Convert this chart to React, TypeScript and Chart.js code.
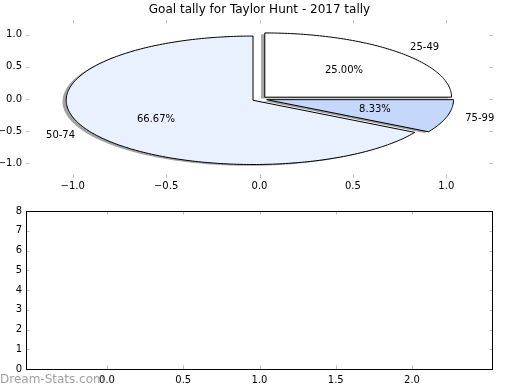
import React, { useEffect, useRef } from "react";
import { Chart, registerables } from "chart.js";
Chart.register(...registerables);

const TITLE = "Goal tally for Taylor Hunt - 2017 tally";
const WATERMARK = "Dream-Stats.com";
const sliceLabels = ["25-49", "75-99", "50-74"];
const sliceValues = [3, 1, 8];
const sliceColors = ["#ffffff", "#c5d8fc", "#eaf1fe"];
const sliceExplode = [0.04, 0.04, 0.04];
const pieStartAngle = 90;
const pieXTicks = [-1, -0.5, 0, 0.5, 1];
const pieYTicks = [-1, -0.5, 0, 0.5, 1];
const barXTicks = [0, 0.5, 1, 1.5, 2];
const barYTicks = [0, 1, 2, 3, 4, 5, 6, 7, 8];

const FONT = "DejaVu Sans";
const TICK_COLOR = "#bdbdbd";

const fmt1 = (v: number) => {
  const s = Math.abs(v).toFixed(1);
  return v < 0 ? "\u2212" + s : s;
};

function drawInTicks(chart: any, xVals: number[], yVals: number[]) {
  const { ctx, chartArea } = chart;
  const xs = chart.scales.x;
  const ys = chart.scales.y;
  const L = 3.5;
  ctx.save();
  ctx.strokeStyle = TICK_COLOR;
  ctx.lineWidth = 1;
  ctx.beginPath();
  xVals.forEach((v) => {
    const px = Math.round(xs.getPixelForValue(v)) + 0.5;
    ctx.moveTo(px, chartArea.top);
    ctx.lineTo(px, chartArea.top + L);
    ctx.moveTo(px, chartArea.bottom);
    ctx.lineTo(px, chartArea.bottom - L);
  });
  yVals.forEach((v) => {
    const py = Math.round(ys.getPixelForValue(v)) + 0.5;
    ctx.moveTo(chartArea.left, py);
    ctx.lineTo(chartArea.left + L, py);
    ctx.moveTo(chartArea.right, py);
    ctx.lineTo(chartArea.right - L, py);
  });
  ctx.stroke();
  ctx.restore();
}

function wedgePath(ctx: any, xs: any, ys: any, cx: number, cy: number, r: number, t1: number, t2: number) {
  ctx.beginPath();
  ctx.moveTo(xs.getPixelForValue(cx), ys.getPixelForValue(cy));
  const n = Math.max(8, Math.ceil(Math.abs(t2 - t1)));
  for (let i = 0; i <= n; i++) {
    const t = ((t1 + ((t2 - t1) * i) / n) * Math.PI) / 180;
    ctx.lineTo(xs.getPixelForValue(cx + r * Math.cos(t)), ys.getPixelForValue(cy + r * Math.sin(t)));
  }
  ctx.closePath();
}

function hexToRgb(h: string) {
  const n = parseInt(h.slice(1), 16);
  return [(n >> 16) & 255, (n >> 8) & 255, n & 255];
}

const piePlugin = {
  id: "piePlugin",
  afterDraw(chart: any) {
    const { ctx } = chart;
    const xs = chart.scales.x;
    const ys = chart.scales.y;
    const total = sliceValues.reduce((a, b) => a + b, 0);
    const wedges: any[] = [];
    let theta1 = pieStartAngle;
    sliceValues.forEach((v, i) => {
      const frac = v / total;
      const theta2 = theta1 - 360 * frac;
      const mid = ((theta1 + theta2) / 2) * Math.PI / 180;
      const cx = sliceExplode[i] * Math.cos(mid);
      const cy = sliceExplode[i] * Math.sin(mid);
      wedges.push({ i, frac, t1: theta2, t2: theta1, mid, cx, cy });
      theta1 = theta2;
    });
    ctx.save();
    // shadows
    wedges.forEach((w) => {
      const [r, g, b] = hexToRgb(sliceColors[w.i]);
      const col = `rgba(${Math.round(r * 0.3)},${Math.round(g * 0.3)},${Math.round(b * 0.3)},0.5)`;
      wedgePath(ctx, xs, ys, w.cx - 0.02, w.cy - 0.02, 1, w.t1, w.t2);
      ctx.fillStyle = col;
      ctx.fill();
    });
    // wedges
    wedges.forEach((w) => {
      wedgePath(ctx, xs, ys, w.cx, w.cy, 1, w.t1, w.t2);
      ctx.fillStyle = sliceColors[w.i];
      ctx.fill();
      ctx.strokeStyle = "#000";
      ctx.lineWidth = 1;
      ctx.lineJoin = "miter";
      ctx.stroke();
    });
    // labels
    ctx.fillStyle = "#000";
    ctx.font = `10px "${FONT}"`;
    ctx.textBaseline = "middle";
    wedges.forEach((w) => {
      const lx = w.cx + 1.1 * Math.cos(w.mid);
      const ly = w.cy + 1.1 * Math.sin(w.mid);
      ctx.textAlign = lx > 0 ? "left" : "right";
      ctx.fillText(sliceLabels[w.i], xs.getPixelForValue(lx), ys.getPixelForValue(ly));
      const px = w.cx + 0.6 * Math.cos(w.mid);
      const py = w.cy + 0.6 * Math.sin(w.mid);
      ctx.textAlign = "center";
      ctx.fillText((w.frac * 100).toFixed(2) + "%", xs.getPixelForValue(px), ys.getPixelForValue(py));
    });
    // title
    ctx.font = `12px "${FONT}"`;
    ctx.textAlign = "center";
    ctx.fillText(TITLE, (chart.chartArea.left + chart.chartArea.right) / 2, 10);
    ctx.restore();
    drawInTicks(chart, pieXTicks, pieYTicks);
  },
};

const barPlugin = {
  id: "barPlugin",
  afterDraw(chart: any) {
    const { ctx, chartArea } = chart;
    drawInTicks(chart, barXTicks, barYTicks);
    ctx.save();
    ctx.strokeStyle = "#000";
    ctx.lineWidth = 1;
    ctx.strokeRect(chartArea.left + 0.5, chartArea.top + 0.5, chartArea.right - chartArea.left - 1, chartArea.bottom - chartArea.top);
    ctx.fillStyle = "rgba(128,128,128,0.75)";
    ctx.font = `12px "${FONT}"`;
    ctx.textAlign = "left";
    ctx.textBaseline = "middle";
    ctx.fillText(WATERMARK, 0, 380);
    ctx.restore();
  },
};

function axis(min: number, max: number, vals: number[], fmt: (v: number) => string, isX: boolean, pad: number, size: number) {
  return {
    type: "linear" as const,
    min,
    max,
    afterBuildTicks: (s: any) => {
      s.ticks = vals.map((v) => ({ value: v }));
    },
    afterFit: (s: any) => {
      if (isX) s.height = size;
      else s.width = size;
    },
    grid: { display: false, drawTicks: false },
    border: { display: false },
    ticks: {
      padding: pad,
      color: "#000",
      font: { family: FONT, size: 10 },
      maxRotation: 0,
      autoSkip: false,
      callback: (v: any) => fmt(Number(v)),
    },
  };
}

export default function App() {
  const topRef = useRef<HTMLCanvasElement | null>(null);
  const botRef = useRef<HTMLCanvasElement | null>(null);
  useEffect(() => {
    const top = new Chart(topRef.current as HTMLCanvasElement, {
      type: "scatter",
      data: { datasets: [] },
      options: {
        responsive: false,
        animation: false,
        events: [],
        layout: { padding: { left: 0, right: 27, top: 20, bottom: 192 } },
        plugins: { legend: { display: false }, tooltip: { enabled: false }, title: { display: false } },
        scales: {
          x: axis(-1.25, 1.25, pieXTicks, fmt1, true, 2, 20),
          y: axis(-1.23, 1.23, pieYTicks, fmt1, false, 4, 26),
        },
      },
      plugins: [piePlugin],
    } as any);
    const bot = new Chart(botRef.current as HTMLCanvasElement, {
      type: "bar",
      data: { datasets: [] },
      options: {
        responsive: false,
        animation: false,
        events: [],
        layout: { padding: { left: 0, right: 27, top: 211, bottom: 0 } },
        plugins: { legend: { display: false }, tooltip: { enabled: false } },
        scales: {
          x: axis(-0.225, 2.225, barXTicks, (v) => v.toFixed(1), true, 5, 21),
          y: axis(0, 8, barYTicks, (v) => String(v), false, 4, 26),
        },
      },
      plugins: [barPlugin],
    } as any);
    return () => {
      top.destroy();
      bot.destroy();
    };
  }, []);
  const cs: React.CSSProperties = { position: "absolute", left: 0, top: 0, width: 520, height: 390 };
  return (
    <div style={{ position: "fixed", left: 0, top: 0, width: 520, height: 390, background: "#fff" }}>
      <canvas ref={botRef} width={520} height={390} style={cs} />
      <canvas ref={topRef} width={520} height={390} style={cs} />
    </div>
  );
}
